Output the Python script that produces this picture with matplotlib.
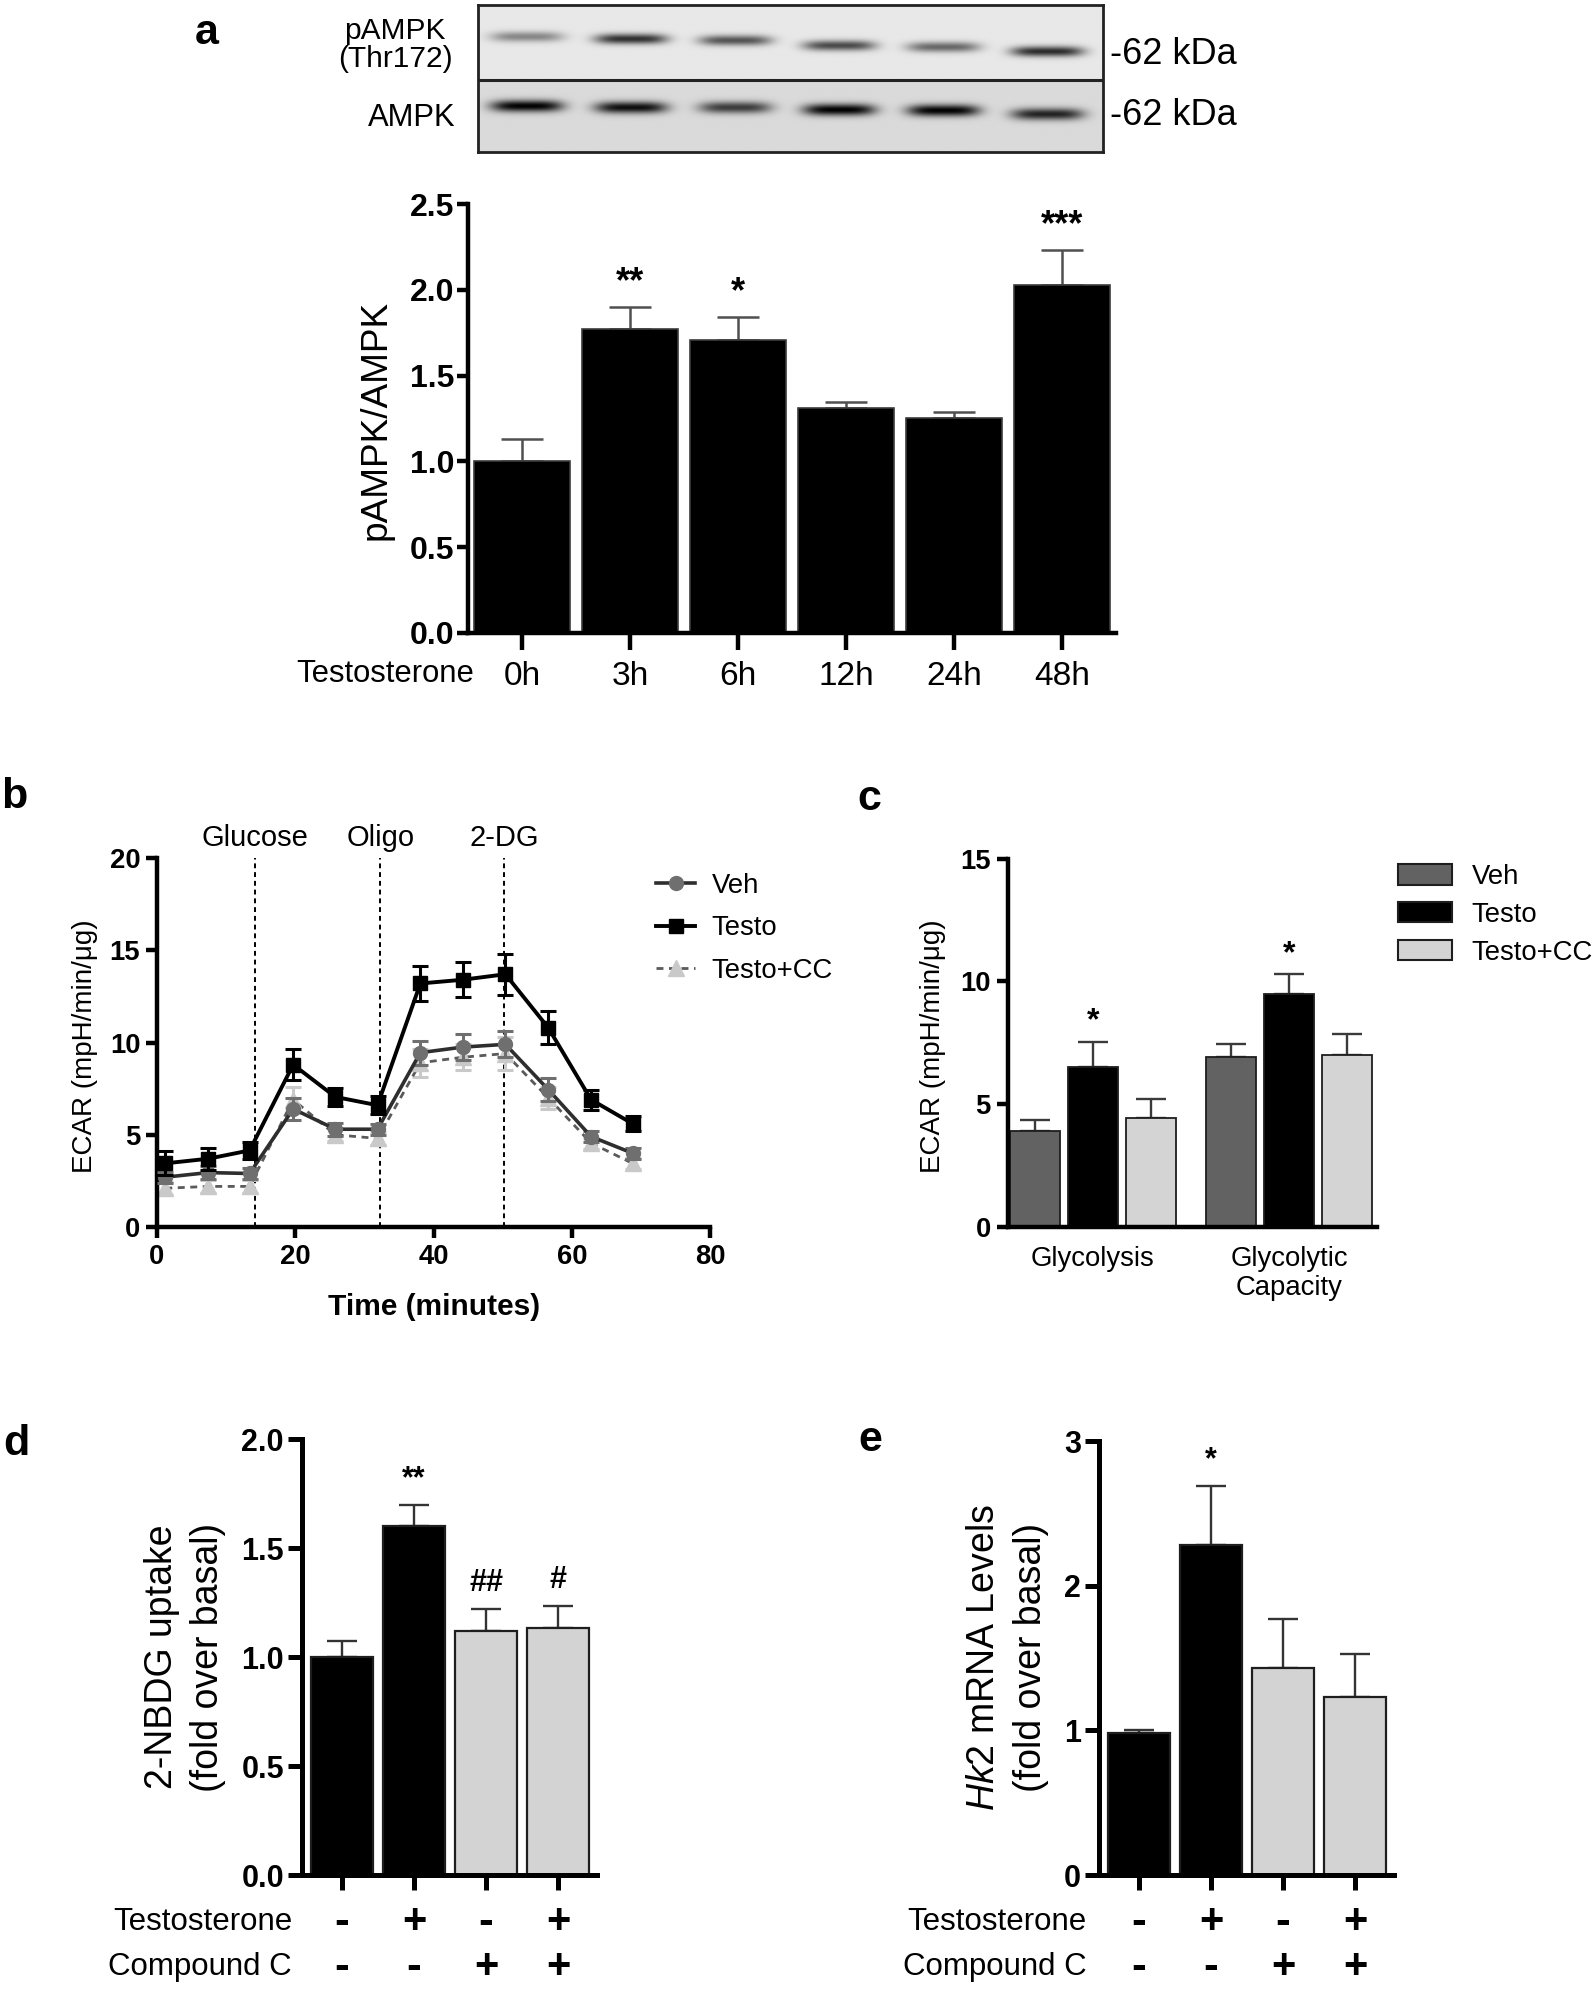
import numpy as np
import matplotlib
matplotlib.use("Agg")
import matplotlib.pyplot as plt
import matplotlib.transforms as mtransforms
from matplotlib import font_manager
from matplotlib.lines import Line2D
from matplotlib.patches import Patch

# ---- data -------------------------------------------------------------
# a: western blot quantification
timepoints = ["0h", "3h", "6h", "12h", "24h", "48h"]
pampk_ratio = [1.0, 1.77, 1.71, 1.31, 1.25, 2.03]
pampk_sem = [0.13, 0.13, 0.13, 0.035, 0.035, 0.20]
pampk_stars = ["", "**", "*", "", "", "***"]
# band darkness and vertical drift for the blot picture
pampk_band = [0.38, 0.72, 0.58, 0.62, 0.50, 0.74]
pampk_band_y = [0.22, 0.235, 0.245, 0.28, 0.29, 0.32]
ampk_band = [0.85, 0.80, 0.62, 0.85, 0.85, 0.72]
ampk_band_y = [0.69, 0.70, 0.70, 0.715, 0.72, 0.745]

# b: ECAR time course
time_min = [1.2, 7.4, 13.4, 19.7, 25.8, 31.9, 38.1, 44.2, 50.4, 56.6, 62.8, 68.8]
veh_ecar = [2.7, 2.95, 2.9, 6.4, 5.3, 5.3, 9.45, 9.75, 9.9, 7.45, 4.9, 4.0]
veh_ecar_sem = [0.3, 0.35, 0.3, 0.6, 0.35, 0.3, 0.65, 0.7, 0.7, 0.6, 0.3, 0.3]
testo_ecar = [3.45, 3.7, 4.15, 8.8, 7.05, 6.6, 13.2, 13.4, 13.7, 10.8, 6.9, 5.6]
testo_ecar_sem = [0.65, 0.6, 0.45, 0.85, 0.5, 0.5, 0.95, 0.95, 1.1, 0.9, 0.55, 0.4]
cc_ecar = [2.1, 2.2, 2.2, 6.9, 5.0, 4.8, 8.9, 9.2, 9.4, 7.0, 4.55, 3.45]
cc_ecar_sem = [0.35, 0.35, 0.35, 0.7, 0.35, 0.35, 0.75, 0.7, 0.9, 0.6, 0.3, 0.3]
injections = [14.2, 32.3, 50.2]
injection_names = ["Glucose", "Oligo", "2-DG"]

# c: glycolysis summary
c_groups = ["Glycolysis", "Glycolytic\nCapacity"]
c_series = ["Veh", "Testo", "Testo+CC"]
c_means = {"Veh": [3.9, 6.9], "Testo": [6.5, 9.5], "Testo+CC": [4.45, 7.0]}
c_sems = {"Veh": [0.45, 0.55], "Testo": [1.05, 0.8], "Testo+CC": [0.75, 0.85]}
c_stars = {"Veh": ["", ""], "Testo": ["*", "*"], "Testo+CC": ["", ""]}

# d / e: treatment grid
testosterone = [False, True, False, True]
compound_c = [False, False, True, True]
nbdg_uptake = [1.0, 1.6, 1.12, 1.135]
nbdg_sem = [0.075, 0.095, 0.10, 0.10]
nbdg_marks = ["", "**", "##", "#"]
hk2_mrna = [0.98, 2.28, 1.43, 1.23]
hk2_sem = [0.02, 0.41, 0.34, 0.30]
hk2_marks = ["", "*", "", ""]

# ---- fonts ------------------------------------------------------------
names = {f.name for f in font_manager.fontManager.ttflist}
REG = "Liberation Sans" if "Liberation Sans" in names else "DejaVu Sans"
NARROW = "Liberation Sans Narrow" if "Liberation Sans Narrow" in names else REG
ns = 1.0 if NARROW != REG else 0.86  # shrink condensed text if no narrow face
plt.rcParams["font.family"] = [REG, "DejaVu Sans"]
plt.rcParams["mathtext.fontset"] = "custom"
plt.rcParams["mathtext.it"] = REG + ":italic"
plt.rcParams["mathtext.rm"] = REG

W, H = 1594, 1992
fig = plt.figure(figsize=(W / 100, H / 100), dpi=100)


def add_ax(left, top, right, bottom):
    return fig.add_axes([left / W, 1 - bottom / H, (right - left) / W, (bottom - top) / H])


def fx(x):
    return x / W


def fy(y):
    return 1 - y / H


def style(ax, lw=3.2):
    ax.spines["top"].set_visible(False)
    ax.spines["right"].set_visible(False)
    ax.spines["left"].set_linewidth(lw)
    ax.spines["bottom"].set_linewidth(lw)


def bold_ticks(labels, family, size):
    for t in labels:
        t.set_fontweight("bold")
        t.set_family(family)
        t.set_fontsize(size)


# ---- panel letters ------------------------------------------------------
for letter, (lx, ly) in {"a": (207, 33), "b": (14, 797), "c": (869, 799),
                         "d": (16, 1444), "e": (870, 1440)}.items():
    fig.text(fx(lx), fy(ly), letter, fontsize=31, fontweight="bold",
             ha="center", va="center")

# ---- a: blot --------------------------------------------------------------
ax_blot = add_ax(478, 5, 1103, 152)
Y, X = np.mgrid[0:1:300j, 0:1:1200j]
top = Y < 0.51
img = np.where(top, 0.91, 0.855)
for i in range(len(timepoints)):
    xc = (i + 0.47) / len(timepoints)
    px = np.exp(-np.abs((X - xc) / 0.058) ** 4)
    img = img - pampk_band[i] * px * np.exp(-((Y - pampk_band_y[i]) / 0.035) ** 2) * top
    img = img - ampk_band[i] * px * np.exp(-((Y - ampk_band_y[i]) / 0.04) ** 2) * (~top)
ax_blot.imshow(np.clip(img, 0, 1), cmap="gray", vmin=0, vmax=1, aspect="auto",
               extent=(0, 1, 1, 0), interpolation="bilinear")
ax_blot.set_xlim(0, 1)
ax_blot.set_ylim(1, 0)
ax_blot.axhline(0.51, color="#222222", lw=2.2)
ax_blot.set_xticks([])
ax_blot.set_yticks([])
for s in ax_blot.spines.values():
    s.set_linewidth(2)
    s.set_color("#222222")

fig.text(fx(395), fy(45), "pAMPK\n(Thr172)", ha="center", va="center",
         fontsize=25 * ns, family=NARROW, linespacing=1.0)
fig.text(fx(456), fy(118), "AMPK", ha="right", va="center", fontsize=26 * ns, family=NARROW)
fig.text(fx(1110), fy(55), "-62 kDa", ha="left", va="center", fontsize=26)
fig.text(fx(1110), fy(115), "-62 kDa", ha="left", va="center", fontsize=26)

# ---- a: bar chart ----------------------------------------------------------
ax_a = add_ax(468, 204, 1116, 633)
xa = np.arange(len(timepoints))
ax_a.bar(xa, pampk_ratio, width=0.88, color="black", edgecolor="#3c3c3c",
         linewidth=1.2, zorder=2)
ax_a.errorbar(xa, pampk_ratio, yerr=[np.zeros(len(xa)), pampk_sem], fmt="none",
              ecolor="#505050", elinewidth=1.8, capsize=15, capthick=1.8, zorder=1)
for xi, m, e, s in zip(xa, pampk_ratio, pampk_sem, pampk_stars):
    if s:
        ax_a.text(xi, m + e + 0.04, s, ha="center", va="bottom", fontsize=26,
                  fontweight="bold", family=NARROW)
ax_a.set_xlim(-0.5, 5.5)
ax_a.set_ylim(0, 2.5)
style(ax_a)
ax_a.set_yticks(np.arange(0, 2.51, 0.5))
ax_a.set_yticklabels([f"{v:.1f}" for v in np.arange(0, 2.51, 0.5)])
bold_ticks(ax_a.get_yticklabels(), NARROW, 23)
ax_a.set_xticks(xa)
ax_a.set_xticklabels(timepoints, fontsize=24, family=NARROW)
ax_a.tick_params(axis="y", length=8, width=3.2, pad=2)
ax_a.tick_params(axis="x", length=12, width=3.2, pad=8)
fig.text(fx(376), fy(420), "pAMPK/AMPK", rotation=90, ha="center", va="center",
         fontsize=33 * ns * 0.94, family=NARROW)
fig.text(fx(474), fy(674), "Testosterone", ha="right", va="center",
         fontsize=26 * ns, family=NARROW)

# ---- b: ECAR time course ---------------------------------------------------
ax_b = add_ax(157, 858, 710, 1227)
for t in injections:
    ax_b.axvline(t, color="black", lw=1.4, ls=(0, (2.5, 2)), zorder=1)
for t, name in zip(injections, injection_names):
    ax_b.text(t, 21.1, name, ha="center", va="center", fontsize=21,
              family=NARROW, clip_on=False)
ax_b.errorbar(time_min, cc_ecar, yerr=cc_ecar_sem, fmt="^", ls=(0, (2.5, 2)),
              color="#5a5a5a", mfc="#c9c9c9", mec="#c9c9c9", ecolor="#c9c9c9",
              ms=11, lw=2.0, elinewidth=2.2, capsize=6, capthick=2.2, zorder=2)
ax_b.errorbar(time_min, veh_ecar, yerr=veh_ecar_sem, fmt="o-", color="#2e2e2e",
              mfc="#6f6f6f", mec="#6f6f6f", ecolor="#6f6f6f", ms=10, lw=2.6,
              elinewidth=2.2, capsize=6, capthick=2.2, zorder=3)
ax_b.errorbar(time_min, testo_ecar, yerr=testo_ecar_sem, fmt="s-", color="black",
              ms=10, lw=2.8, elinewidth=2.2, capsize=6, capthick=2.2, zorder=4)
ax_b.set_xlim(0, 80)
ax_b.set_ylim(0, 20)
style(ax_b)
ax_b.set_xticks(np.arange(0, 81, 20))
ax_b.set_yticks(np.arange(0, 21, 5))
bold_ticks(ax_b.get_xticklabels() + ax_b.get_yticklabels(), NARROW, 23 * ns)
ax_b.tick_params(length=8, width=3.2, pad=4)
fig.text(fx(434), fy(1307), "Time (minutes)", ha="center", va="center",
         fontsize=25 * ns, fontweight="bold", family=NARROW)
fig.text(fx(85), fy(1046), "ECAR (mpH/min/μg)", rotation=90, ha="center",
         va="center", fontsize=20, family=NARROW)
b_handles = [
    Line2D([], [], color="#2e2e2e", lw=2.6, marker="o", mfc="#6f6f6f", mec="#6f6f6f", ms=10),
    Line2D([], [], color="black", lw=2.8, marker="s", ms=10),
    Line2D([], [], color="#5a5a5a", lw=2.0, ls=(0, (2.5, 2)), marker="^",
           mfc="#c9c9c9", mec="#c9c9c9", ms=11),
]
fig.legend(b_handles, c_series, loc="upper left", bbox_to_anchor=(fx(656), fy(873)),
           frameon=False, prop={"family": NARROW, "size": 23 * ns},
           handlelength=1.42, handletextpad=0.6, labelspacing=0.6,
           borderpad=0, borderaxespad=0)

# ---- c: glycolysis bars -----------------------------------------------------
ax_c = add_ax(1007.5, 858.5, 1377, 1227)
c_colors = {"Veh": "#626262", "Testo": "black", "Testo+CC": "#d4d4d4"}
gx = np.arange(len(c_groups))
pitch, bw = 0.2955, 0.252
for k, name in enumerate(c_series):
    pos = gx + (k - 1) * pitch
    ax_c.bar(pos, c_means[name], width=bw, color=c_colors[name], edgecolor="#1e1e1e",
             linewidth=1.3, zorder=2)
    ax_c.errorbar(pos, c_means[name], yerr=[np.zeros(len(pos)), c_sems[name]], fmt="none",
                  ecolor="#3a3a3a", elinewidth=1.7, capsize=11, capthick=1.7, zorder=1)
    for p, m, e, s in zip(pos, c_means[name], c_sems[name], c_stars[name]):
        if s:
            ax_c.text(p, m + e + 0.2, s, ha="center", va="bottom", fontsize=23,
                      fontweight="bold", family=NARROW)
ax_c.set_xlim(-0.435, 1.448)
ax_c.set_ylim(0, 15)
style(ax_c)
ax_c.set_yticks([0, 5, 10, 15])
bold_ticks(ax_c.get_yticklabels(), NARROW, 23 * ns)
ax_c.set_xticks(gx)
ax_c.set_xticklabels(c_groups, fontsize=23 * ns, family=NARROW, linespacing=1.12)
ax_c.tick_params(axis="y", length=8, width=3.2, pad=4)
ax_c.tick_params(axis="x", length=0, pad=14)
fig.text(fx(933), fy(1046), "ECAR (mpH/min/μg)", rotation=90, ha="center",
         va="center", fontsize=20, family=NARROW)
c_handles = [Patch(facecolor=c_colors[n], edgecolor="#1e1e1e", linewidth=1.5) for n in c_series]
fig.legend(c_handles, c_series, loc="upper left", bbox_to_anchor=(fx(1398), fy(864)),
           frameon=False, prop={"family": NARROW, "size": 23 * ns},
           handlelength=1.96, handleheight=0.76, handletextpad=0.72,
           labelspacing=0.43, borderpad=0, borderaxespad=0)


# ---- d / e: treatment bars -------------------------------------------------
def treatment_panel(ax, means, sems, marks, ymax, ystep, fmt, row_label_x):
    xs = np.arange(len(means))
    colors = ["#d3d3d3" if cc else "black" for cc in compound_c]
    ax.bar(xs, means, width=0.86, color=colors, edgecolor="#1e1e1e", linewidth=1.6, zorder=2)
    ax.errorbar(xs, means, yerr=[np.zeros(len(xs)), sems], fmt="none", ecolor="#333333",
                elinewidth=1.7, capsize=11, capthick=1.7, zorder=1)
    for xi, m, e, s in zip(xs, means, sems, marks):
        if s:
            ax.text(xi, m + e + ymax * 0.025, s, ha="center", va="bottom",
                    fontsize=22, fontweight="bold")
    ax.set_xlim(-0.555, 3.54)
    ax.set_ylim(0, ymax)
    style(ax, lw=3.6)
    ticks = np.arange(0, ymax + 1e-9, ystep)
    ax.set_yticks(ticks)
    ax.set_yticklabels([fmt.format(v) for v in ticks])
    bold_ticks(ax.get_yticklabels(), REG, 22)
    ax.set_xticks(xs)
    ax.set_xticklabels([])
    ax.tick_params(axis="y", length=10, width=3.6, pad=3)
    ax.tick_params(axis="x", length=11, width=3.6)
    trans = mtransforms.blended_transform_factory(ax.transData, fig.transFigure)
    for row_y, label, flags in [(1922, "Testosterone", testosterone),
                                (1967, "Compound C", compound_c)]:
        fig.text(fx(row_label_x), fy(row_y), label, ha="right", va="center", fontsize=22.5)
        for xi, on in zip(xs, flags):
            ax.text(xi, fy(row_y), "+" if on else "-", transform=trans, ha="center",
                    va="center", fontsize=30 if on else 32, fontweight="bold")


ax_d = add_ax(302, 1439, 597, 1875)
treatment_panel(ax_d, nbdg_uptake, nbdg_sem, nbdg_marks, 2.0, 0.5, "{:.1f}", 292)
fig.text(fx(162), fy(1657), "2-NBDG uptake", rotation=90, ha="center", va="center", fontsize=27)
fig.text(fx(208), fy(1657), "(fold over basal)", rotation=90, ha="center", va="center", fontsize=27)

ax_e = add_ax(1099, 1441, 1394, 1875)
treatment_panel(ax_e, hk2_mrna, hk2_sem, hk2_marks, 3, 1, "{:.0f}", 1087)
fig.text(fx(984), fy(1657), r"$\mathit{Hk2}$ mRNA Levels", rotation=90, ha="center",
         va="center", fontsize=27)
fig.text(fx(1031), fy(1657), "(fold over basal)", rotation=90, ha="center", va="center", fontsize=27)

fig.savefig("out.png", dpi=100)
